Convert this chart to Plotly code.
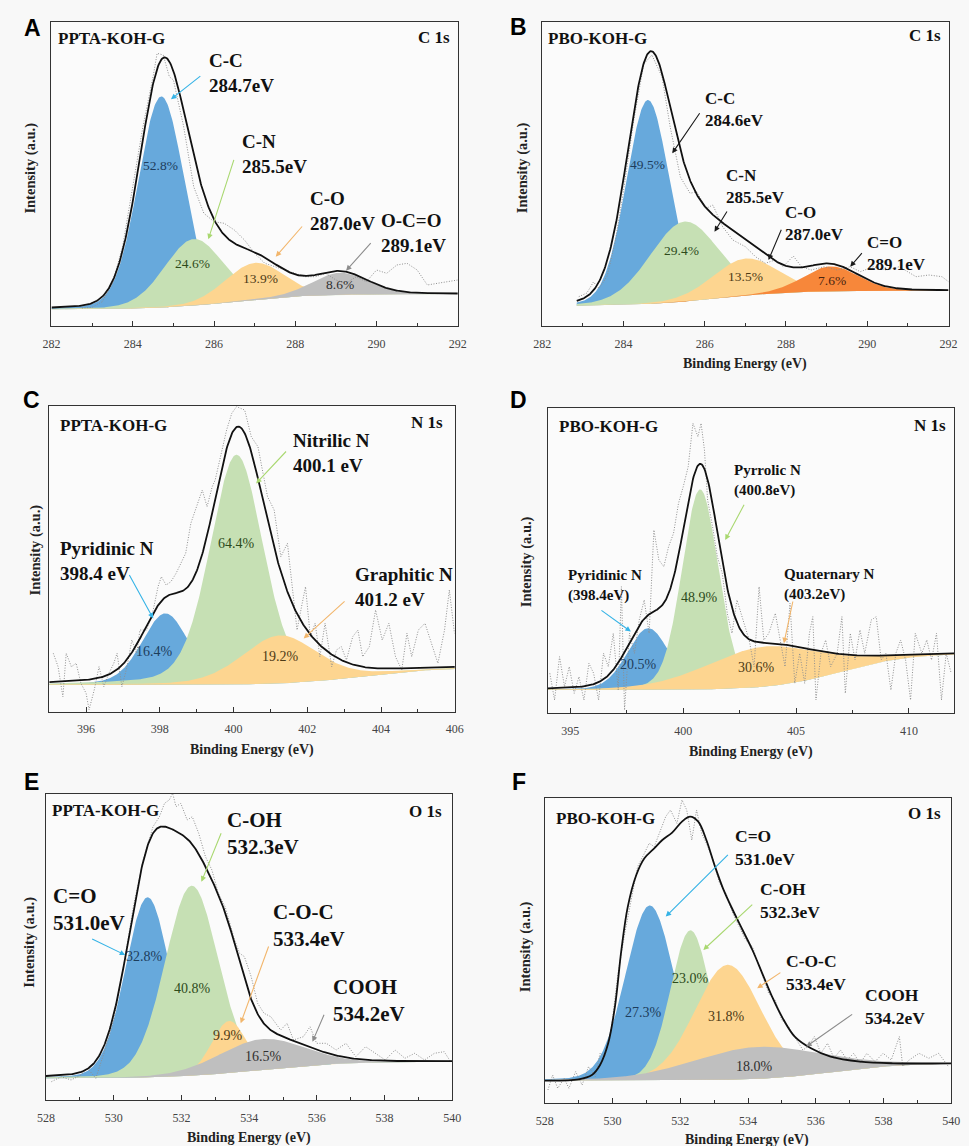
import numpy as np
import plotly.graph_objects as go

W, H = 969, 1146

# ======================= DATA =======================
# Panel A  PPTA-KOH-G  C 1s
A_centers = [284.7, 285.5, 287.0, 289.1]
A_heights = [211, 66.5, 36.7, 22]
A_fwhm = [1.33, 1.7, 1.7, 1.6]
A_percent = [52.8, 24.6, 13.9, 8.6]
A_labels = ["C-C<br>284.7eV", "C-N<br>285.5eV", "C-O<br>287.0eV", "O-C=O<br>289.1eV"]
A_background = [16.7, 32.0, 286.5, 0.9]   # low level, high level, step centre, step width
A_raw_x = [282.75, 283.0, 283.25, 283.5, 283.75, 284.0, 284.25, 284.5, 284.6, 284.75, 284.9, 285.0,
           285.25, 285.5, 285.75, 286.0, 286.25, 286.5, 286.75, 287.0, 287.25, 287.5, 287.75, 288.0,
           288.25, 288.5, 288.75, 289.0, 289.25, 289.5, 289.75, 290.0, 290.25, 290.5, 290.75, 291.0,
           291.25, 291.5, 291.75, 292.0]
A_raw_y = [18, 18.7, 24.3, 42.7, 79.3, 139.3, 199.3, 249.3, 272.7, 271, 249.3, 246,
           200, 139.3, 112.7, 104.3, 102.7, 96, 86, 72.7, 62.7, 59.3, 56, 52.7,
           49.3, 49.3, 52.7, 46, 42.7, 49.3, 44.3, 56, 52.7, 61, 62.7, 56,
           41, 42.7, 44.3, 46]

# Panel B  PBO-KOH-G  C 1s
B_centers = [284.6, 285.5, 287.0, 289.1]
B_heights = [204, 80, 37, 25]
B_fwhm = [1.25, 2.0, 1.9, 1.6]
B_percent = [49.5, 29.4, 13.5, 7.6]
B_labels = ["C-C<br>284.6eV", "C-N<br>285.5eV", "C-O<br>287.0eV", "C=O<br>289.1eV"]
B_background = [20.0, 35.3, 286.3, 0.9]
B_raw_x = [282.9, 283.1, 283.26, 283.4, 283.6, 283.8, 284.0, 284.25, 284.5, 284.7, 284.95, 285.15,
           285.4, 285.64, 285.8, 286.04, 286.2, 286.44, 286.69, 287.0, 287.25, 287.49, 287.73, 287.93,
           288.18, 288.38, 288.62, 288.94, 289.26, 289.58, 289.83, 290.15, 290.47, 290.79, 291.2, 291.52,
           291.84, 292.0]
B_raw_y = [29.3, 33, 44, 37.7, 50, 85, 135, 205, 262, 271, 249, 199,
           149, 132.7, 134.3, 117.7, 121, 99.3, 86, 79.3, 69.3, 62.7, 66, 59.3,
           70, 59.3, 56, 59.3, 56, 59.3, 54.3, 59.3, 56, 59.3, 49.3, 51,
           49.3, 44.3]

# Panel C  PPTA-KOH-G  N 1s
C_centers = [398.15, 400.08, 401.25]
C_heights = [71.6, 229.7, 48]
C_fwhm = [1.5, 1.7, 2.4]
C_percent = [16.4, 64.4, 19.2]
C_labels = ["Pyridinic N<br>398.4 eV", "Nitrilic N<br>400.1 eV", "Graphitic N<br>401.2 eV"]
C_background = [26.7, 44.0, 403.5, 1.0]
C_raw_x = [395.11, 395.24, 395.37, 395.46, 395.6, 395.73, 395.86, 396.0, 396.08, 396.22, 396.35, 396.48,
           396.62, 396.75, 396.84, 396.97, 397.11, 397.24, 397.37, 397.46, 397.64, 397.82, 397.95, 398.04,
           398.17, 398.3, 398.44, 398.57, 398.7, 398.84, 398.97, 399.15, 399.28, 399.42, 399.5, 399.68,
           399.81, 399.95, 400.08, 400.3, 400.48, 400.66, 400.79, 400.92, 401.1, 401.28, 401.46, 401.6,
           401.72, 401.86, 401.95, 402.08, 402.21, 402.34, 402.48, 402.66, 402.79, 402.92, 403.06, 403.23,
           403.37, 403.5, 403.68, 403.85, 404.03, 404.21, 404.39, 404.56, 404.7, 404.83, 405.01, 405.19,
           405.36, 405.54, 405.72, 405.85, 405.99]
C_raw_y = [58.4, 45, 15, 58.4, 45, 48.4, 28.4, 18.4, 2, 21.7, 45, 25,
           38.4, 48.4, 58.4, 25, 45, 71.7, 58.4, 81.7, 81.7, 101.7, 125, 135,
           126.7, 130, 138.4, 148.4, 158.4, 188.4, 201.7, 221.7, 205, 225, 231.7, 261.7,
           281.7, 298.4, 305, 301.7, 275, 265, 241.7, 215, 201.7, 155, 168.4, 125,
           81.7, 108.4, 125, 75, 88.4, 55, 88.4, 45, 61.7, 65, 51.7, 75,
           81.7, 55, 65, 101.7, 71.7, 88.4, 55, 41.7, 78.4, 55, 81.7, 88.4,
           68.4, 48.4, 81.7, 121.7, 78.4]

# Panel D  PBO-KOH-G  N 1s
D_centers = [398.45, 400.75, 403.6]
D_heights = [61.7, 200, 40]
D_fwhm = [2.2, 1.9, 6.0]
D_percent = [20.5, 48.9, 30.6]
D_labels = ["Pyridinic N<br>(398.4eV)", "Pyrrolic N<br>(400.8eV)", "Quaternary N<br>(403.2eV)"]
D_background = [23.3, 60.0, 407.0, 1.5]
D_raw_x = [394.09, 394.3, 394.52, 394.74, 394.95, 395.17, 395.38, 395.6, 395.82, 396.03, 396.25, 396.47,
           396.68, 396.9, 397.12, 397.26, 397.4, 397.62, 397.84, 398.05, 398.27, 398.49, 398.7, 398.92,
           399.14, 399.35, 399.57, 399.79, 400.0, 400.22, 400.43, 400.65, 400.79, 400.94, 401.08, 401.3,
           401.51, 401.73, 401.95, 402.16, 402.38, 402.6, 402.81, 402.92, 403.14, 403.36, 403.57, 403.79,
           404.08, 404.3, 404.51, 404.73, 404.94, 405.16, 405.38, 405.59, 405.74, 405.88, 406.1, 406.31,
           406.53, 406.82, 407.03, 407.18, 407.4, 407.61, 407.83, 408.04, 408.33, 408.55, 408.77, 408.98,
           409.2, 409.42, 409.63, 409.85, 410.07, 410.28, 410.57, 410.79, 411.0, 411.22, 411.44, 411.65,
           411.87]
D_raw_y = [40, 13.3, 56.6, 26.6, 46.6, 20, 36.6, 13.3, 50, 40, 13.3, 60,
           46.6, 80, 23.3, 126.6, 3.3, 80, 60, 93.3, 113.3, 80, 183.3, 153.3,
           146.6, 166.6, 180, 210, 226.6, 246.6, 290, 276.6, 290, 263.3, 213.3, 186.6,
           156.6, 140, 100, 80, 113.3, 96.6, 80, 73.3, 46.6, 126.6, 73.3, 80,
           100, 73.3, 46.6, 110, 30, 60, 30, 80, 96.6, 13.3, 60, 73.3,
           46.6, 60, 96.6, 20, 80, 53.3, 83.3, 60, 93.3, 96.6, 53.3, 60,
           23.3, 60, 73.3, 53.3, 13.3, 80, 60, 73.3, 53.3, 80, 13.3, 60,
           40]

# Panel E  PPTA-KOH-G  O 1s
E_centers = [531.0, 532.3, 533.4, 534.35]
E_heights = [180, 190, 52, 30.7]
E_fwhm = [1.55, 1.85, 1.2, 3.0]
E_percent = [32.8, 40.8, 9.9, 16.5]
E_labels = ["C=O<br>531.0eV", "C-OH<br>532.3eV", "C-O-C<br>533.4eV", "COOH<br>534.2eV"]
E_background = [21.7, 38.3, 534.3, 1.2]
E_raw_x = [528.16, 528.45, 528.74, 529.03, 529.23, 529.47, 529.71, 530.0, 530.29, 530.58, 530.87, 531.16,
           531.35, 531.5, 531.64, 531.74, 531.84, 531.98, 532.17, 532.32, 532.51, 532.71, 532.9, 533.09,
           533.29, 533.57, 533.72, 533.86, 534.06, 534.25, 534.44, 534.64, 534.93, 535.12, 535.31, 535.6,
           535.8, 535.99, 536.28, 536.57, 536.86, 537.15, 537.44, 537.73, 538.02, 538.31, 538.6, 538.89,
           539.18, 539.47, 539.76, 539.95]
E_raw_y = [18.3, 23.3, 20, 25, 31.7, 21.7, 46.7, 80, 133.3, 193.3, 240, 273.3,
           283.3, 296.7, 300, 306.7, 293.3, 296.7, 280, 283.3, 266.7, 243.3, 230, 206.7,
           193.3, 160, 146.7, 143.3, 123.3, 96.7, 86.7, 83.3, 70, 76.7, 60, 63.3,
           73.3, 56.7, 56.7, 50, 56.7, 43.3, 53.3, 46.7, 40, 50, 41.7, 46.7,
           40, 46.7, 48.3, 38.3]

# Panel F  PBO-KOH-G  O 1s
F_centers = [531.1, 532.3, 533.4, 534.3]
F_heights = [175, 150, 115, 32]
F_fwhm = [1.7, 1.4, 2.3, 4.5]
F_percent = [27.3, 23.0, 31.8, 18.0]
F_labels = ["C=O<br>531.0eV", "C-OH<br>532.3eV", "C-O-C<br>533.4eV", "COOH<br>534.2eV"]
F_background = [22.7, 40.0, 536.5, 1.0]
F_raw_x = [528.09, 528.23, 528.38, 528.57, 528.71, 528.91, 529.1, 529.29, 529.49, 529.63, 529.78, 529.97,
           530.16, 530.36, 530.55, 530.74, 530.94, 531.08, 531.23, 531.42, 531.57, 531.71, 531.9, 532.05,
           532.19, 532.34, 532.48, 532.63, 532.77, 532.97, 533.16, 533.35, 533.55, 533.74, 533.93, 534.13,
           534.27, 534.42, 534.61, 534.8, 535.0, 535.19, 535.38, 535.62, 535.77, 535.96, 536.15, 536.35,
           536.54, 536.73, 536.93, 537.12, 537.31, 537.51, 537.75, 537.99, 538.23, 538.47, 538.57, 538.76,
           539.05, 539.34, 539.63, 539.92]
F_raw_y = [13.3, 28.3, 15, 25, 15, 31.7, 18.3, 36.7, 26.7, 50, 46.7, 76.7,
           130, 170, 203.3, 236.7, 250, 260, 256.7, 273.3, 286.7, 293.3, 280, 303.3,
           293.3, 263.3, 293.3, 270, 260, 243.3, 220, 210, 190, 176.7, 163.3, 156.7,
           143.3, 130, 110, 103.3, 83.3, 76.7, 66.7, 53.3, 56.7, 66.7, 50, 60,
           45, 53.3, 43.3, 50, 40, 50, 41.7, 50, 43.3, 66.7, 36.7, 43.3,
           50, 45, 50, 36.7]
F_env_x = [528.0, 529.0, 529.39, 529.63, 529.87, 530.07, 530.26, 530.45, 530.7, 530.94, 531.23, 531.47,
           531.76, 532.05, 532.29, 532.53, 532.77, 533.01, 533.26, 533.55, 533.84, 534.13, 534.42, 534.71,
           535.0, 535.38, 535.86, 536.44, 537.31, 538.28, 540.0]
F_env_y = [22.7, 24, 28.3, 38.3, 60, 96.7, 153.3, 196.7, 228.3, 245, 255, 263.3,
           270.7, 281.7, 286.7, 281.7, 263.3, 238.3, 215, 193.3, 173.3, 153.3, 130, 106.7,
           86.7, 66.7, 55, 46.7, 41.7, 40, 40]

# ======================= STYLE / LAYOUT =======================
SERIF = "Liberation Serif, Times New Roman, serif"
BLUE, GREEN, LORANGE, GREY, DORANGE = "#67a9dc", "#c6e0b4", "#fdd590", "#bfbfbf", "#f7873a"
A_CYAN, A_GREEN, A_ORANGE, A_GREY, A_BLACK = "#35b3e6", "#a9d870", "#f2b66c", "#8c8c8c", "#1a1a1a"
TXT = {BLUE: "#1d3d5c", GREEN: "#2d4b1b", LORANGE: "#4d3a15", GREY: "#303030", DORANGE: "#4a2410"}

panels = [
    dict(letter="A", sample="PPTA-KOH-G", core="C 1s",
         centers=A_centers, heights=A_heights, fwhm=A_fwhm, pct=A_percent, labels=A_labels,
         bg=A_background, raw_x=A_raw_x, raw_y=A_raw_y, env=None, eta=0.1,
         box=(43.3, 21.7, 457.3, 326.0), xr=(282, 292), xs=282.0, ytop=304.3, dtick=2, tick0=282, minor=1,
         colors=[BLUE, GREEN, LORANGE, GREY], arrows=[A_CYAN, A_GREEN, A_ORANGE, A_GREY],
         lab_pos=[(285.82, 252.7), (286.63, 171.7), (288.32, 115), (290.05, 92.7)],
         arr=[((285.70, 251.0), (284.94, 226.7)), ((286.5, 167.7), (285.86, 86.7)),
              ((288.2, 101), (287.52, 69.3)), ((289.89, 84.3), (289.25, 55.3))],
         pct_pos=[(284.68, 160.3), (285.46, 62.7), (287.14, 47.7), (289.09, 41)],
         lab_size=19, pct_size=13.5,
         letter_pos=(24, 28), sample_pos=(48, 38), core_pos=(451, 37),
         ytitle=(22, 168), xtitle=None),
    dict(letter="B", sample="PBO-KOH-G", core="C 1s",
         centers=B_centers, heights=B_heights, fwhm=B_fwhm, pct=B_percent, labels=B_labels,
         bg=B_background, raw_x=B_raw_x, raw_y=B_raw_y, env=None, eta=0.1,
         box=(543.3, 21.7, 957.3, 326.0), xr=(282, 292), xs=282.85, ytop=304.3, dtick=2, tick0=282, minor=1,
         colors=[BLUE, GREEN, LORANGE, DORANGE], arrows=[A_BLACK] * 4,
         lab_pos=[(285.96, 216), (286.48, 139), (287.93, 102), (289.95, 72)],
         arr=[((285.9, 214.3), (285.2, 172.7)), ((286.57, 116), (286.24, 94.3)),
              ((287.9, 97.7), (287.57, 66)), ((289.9, 74.3), (289.58, 59.3))],
         pct_pos=[(284.6, 161), (285.44, 75), (287.0, 49), (289.14, 45)],
         lab_size=17, pct_size=13.5,
         letter_pos=(519, 27), sample_pos=(547, 38), core_pos=(952, 35),
         ytitle=(524, 168), xtitle=(750, 364)),
    dict(letter="C", sample="PPTA-KOH-G", core="N 1s",
         centers=C_centers, heights=C_heights, fwhm=C_fwhm, pct=C_percent, labels=C_labels,
         bg=C_background, raw_x=C_raw_x, raw_y=C_raw_y, env=None, eta=0.25,
         box=(41.0, 406.0, 454.3, 711.7), xr=(395, 406), xs=395.0, ytop=305.7, dtick=2, tick0=396, minor=1,
         colors=[BLUE, GREEN, LORANGE], arrows=[A_CYAN, A_GREEN, A_ORANGE],
         lab_pos=[(395.24, 151), (401.56, 258.3), (403.23, 125)],
         arr=[((397.15, 138.3), (397.82, 93.3)), ((401.46, 261.7), (400.61, 228.3)),
              ((403.05, 111.7), (401.9, 73.3))],
         pct_pos=[(397.86, 60), (400.08, 168.3), (401.26, 55)],
         lab_size=19, pct_size=14,
         letter_pos=(23, 400), sample_pos=(50, 425), core_pos=(444, 423),
         ytitle=(27, 550), xtitle=(248, 750)),
    dict(letter="D", sample="PBO-KOH-G", core="N 1s",
         centers=D_centers, heights=D_heights, fwhm=D_fwhm, pct=D_percent, labels=D_labels,
         bg=D_background, raw_x=D_raw_x, raw_y=D_raw_y, env=None, eta=0.15,
         box=(549.0, 408.3, 963.0, 713.3), xr=(394, 412), xs=394.0, ytop=305.0, dtick=5, tick0=395, minor=2.5,
         colors=[BLUE, GREEN, LORANGE], arrows=[A_CYAN, A_GREEN, A_ORANGE],
         lab_pos=[(394.79, 127.7), (402.18, 232.7), (404.37, 128.7)],
         arr=[((396.31, 104), (397.68, 81.7)), ((402.73, 210), (401.86, 173.3)),
              ((404.87, 113.3), (404.46, 70))],
         pct_pos=[(398.0, 49.3), (400.74, 115.7), (403.24, 45.7)],
         lab_size=15, pct_size=14,
         letter_pos=(519, 400), sample_pos=(558, 426.7), core_pos=(956.7, 425),
         ytitle=(527, 562), xtitle=(756, 752)),
    dict(letter="E", sample="PPTA-KOH-G", core="O 1s",
         centers=E_centers, heights=E_heights, fwhm=E_fwhm, pct=E_percent, labels=E_labels,
         bg=E_background, raw_x=E_raw_x, raw_y=E_raw_y, env=None, eta=0.1,
         box=(37.7, 794.3, 451.7, 1100.0), xr=(528, 540), xs=528.0, ytop=305.7, dtick=2, tick0=528, minor=1,
         colors=[BLUE, GREEN, LORANGE, GREY], arrows=[A_CYAN, A_GREEN, A_ORANGE, A_GREY],
         lab_pos=[(528.14, 191), (533.3, 266.3), (534.64, 175), (536.43, 100)],
         arr=[((529.32, 161.7), (530.34, 145)), ((533.19, 268.3), (532.59, 218.3)),
              ((534.59, 155), (533.75, 76.7)), ((536.23, 86.7), (535.87, 58.3))],
         pct_pos=[(530.92, 143.3), (532.32, 111.7), (533.38, 65), (534.43, 43.3)],
         lab_size=21, pct_size=14,
         letter_pos=(23, 782), sample_pos=(41.7, 810), core_pos=(443, 811.7),
         ytitle=(20, 942), xtitle=(245, 1138)),
    dict(letter="F", sample="PBO-KOH-G", core="O 1s",
         centers=F_centers, heights=F_heights, fwhm=F_fwhm, pct=F_percent, labels=F_labels,
         bg=F_background, raw_x=F_raw_x, raw_y=F_raw_y, env=(F_env_x, F_env_y), eta=0.1,
         box=(546.0, 798.3, 960.0, 1103.3), xr=(528, 540), xs=528.0, ytop=305.0, dtick=2, tick0=528, minor=1,
         colors=[BLUE, GREEN, LORANGE, GREY], arrows=[A_CYAN, A_GREEN, A_ORANGE, A_GREY],
         lab_pos=[(533.57, 256.3), (534.3, 203), (535.07, 131), (537.39, 97)],
         arr=[((533.45, 250), (531.57, 186.7)), ((534.17, 200), (532.68, 153.3)),
              ((535.0, 131.7), (534.27, 115)), ((537.12, 90), (535.72, 56.7))],
         pct_pos=[(530.92, 90.7), (532.31, 125), (533.37, 86.7), (534.2, 37.3)],
         lab_size=17.5, pct_size=14,
         letter_pos=(520, 782), sample_pos=(555.7, 818), core_pos=(952, 813),
         ytitle=(526, 947), xtitle=(752, 1140)),
]


def pseudo_voigt(x, c, h, fw, eta):
    d = (x - c) / fw
    return h * ((1 - eta) * np.exp(-4 * np.log(2) * d * d) + eta / (1 + 4 * d * d))


def step_bg(x, p):
    lo, hi, x0, w = p
    return lo + (hi - lo) / (1 + np.exp(-(x - x0) / w))


fig = go.Figure()
annotations = []


def px(xp):
    return xp / W


def py(yp):
    return 1 - yp / H


layout_axes = {}
for i, P in enumerate(panels):
    n = "" if i == 0 else str(i + 1)
    xa, ya = "x" + n, "y" + n
    x = np.linspace(P["xs"], P["xr"][1], 600)
    bg = step_bg(x, P["bg"])
    total = bg.copy()
    for c, h, fw, col in zip(P["centers"], P["heights"], P["fwhm"], P["colors"]):
        pk = pseudo_voigt(x, c, h, fw, P["eta"])
        total = total + pk
        fig.add_trace(go.Scatter(x=x, y=bg, mode="lines", line=dict(width=0), xaxis=xa, yaxis=ya,
                                 showlegend=False, hoverinfo="skip"))
        fig.add_trace(go.Scatter(x=x, y=bg + pk, mode="lines", line=dict(width=0), fill="tonexty",
                                 fillcolor=col, xaxis=xa, yaxis=ya, showlegend=False, hoverinfo="skip"))
    fig.add_trace(go.Scatter(x=P["raw_x"], y=P["raw_y"], mode="lines",
                             line=dict(color="#8f8f8f", width=1, dash="1px,1.6px"),
                             xaxis=xa, yaxis=ya, showlegend=False, hoverinfo="skip"))
    if P["env"] is not None:
        fig.add_trace(go.Scatter(x=P["env"][0], y=P["env"][1], mode="lines", line_shape="spline",
                                 line=dict(color="#111111", width=1.8),
                                 xaxis=xa, yaxis=ya, showlegend=False, hoverinfo="skip"))
    else:
        fig.add_trace(go.Scatter(x=x, y=total, mode="lines", line=dict(color="#111111", width=1.8),
                                 xaxis=xa, yaxis=ya, showlegend=False, hoverinfo="skip"))

    l, t, r, b = P["box"]
    layout_axes["xaxis" + n] = dict(
        domain=[px(l), px(r)], range=list(P["xr"]), anchor=ya, showline=True, mirror=True,
        linecolor="#333333", linewidth=1.2, ticks="inside", ticklen=5, tickwidth=1, tickcolor="#333333",
        dtick=P["dtick"], tick0=P["tick0"], showgrid=False, zeroline=False,
        minor=dict(ticks="inside", ticklen=3, dtick=P["minor"], tick0=P["tick0"], tickcolor="#333333",
                   showgrid=False),
        tickfont=dict(family=SERIF, size=12, color="#444444"), ticklabelstandoff=6)
    layout_axes["yaxis" + n] = dict(
        domain=[py(b), py(t)], range=[0, P["ytop"]], anchor=xa, showline=True, mirror=True,
        linecolor="#333333", linewidth=1.2, showticklabels=False, ticks="", showgrid=False,
        zeroline=False)

    # peak labels
    for (lx, ly), txt in zip(P["lab_pos"], P["labels"]):
        annotations.append(dict(x=lx, y=ly, xref=xa, yref=ya, text="<b>%s</b>" % txt, showarrow=False,
                                xanchor="left", yanchor="middle", align="left",
                                font=dict(family=SERIF, size=P["lab_size"], color="#111111")))
    # arrows
    for ((tx, ty), (hx, hy)), col in zip(P["arr"], P["arrows"]):
        annotations.append(dict(x=hx, y=hy, ax=tx, ay=ty, xref=xa, yref=ya, axref=xa, ayref=ya,
                                text="", showarrow=True, arrowhead=2, arrowsize=1, arrowwidth=1.1,
                                arrowcolor=col, standoff=0, startstandoff=0))
    # percentages
    for (qx, qy), v, col in zip(P["pct_pos"], P["pct"], P["colors"]):
        annotations.append(dict(x=qx, y=qy, xref=xa, yref=ya, text="%.1f%%" % v, showarrow=False,
                                xanchor="center", yanchor="middle",
                                font=dict(family=SERIF, size=P["pct_size"], color=TXT[col])))
    # sample / core level
    annotations.append(dict(x=px(P["sample_pos"][0]), y=py(P["sample_pos"][1]), xref="paper", yref="paper",
                            text="<b>%s</b>" % P["sample"], showarrow=False, xanchor="left", yanchor="middle",
                            font=dict(family=SERIF, size=17, color="#111111")))
    annotations.append(dict(x=px(P["core_pos"][0]), y=py(P["core_pos"][1]), xref="paper", yref="paper",
                            text="<b>%s</b>" % P["core"], showarrow=False, xanchor="right", yanchor="middle",
                            font=dict(family=SERIF, size=17, color="#111111")))
    # panel letter
    annotations.append(dict(x=px(P["letter_pos"][0]), y=py(P["letter_pos"][1]), xref="paper", yref="paper",
                            text="<b>%s</b>" % P["letter"], showarrow=False, xanchor="center",
                            yanchor="middle", font=dict(family="Liberation Sans, Arial", size=23,
                                                        color="#000000")))
    # axis titles
    annotations.append(dict(x=px(P["ytitle"][0]), y=py(P["ytitle"][1]), xref="paper", yref="paper",
                            text="<b>Intensity (a.u.)</b>", showarrow=False, textangle=-90,
                            xanchor="center", yanchor="middle",
                            font=dict(family=SERIF, size=14.5, color="#222222")))
    if P["xtitle"] is not None:
        annotations.append(dict(x=px(P["xtitle"][0]), y=py(P["xtitle"][1]), xref="paper", yref="paper",
                                text="<b>Binding Energy (eV)</b>", showarrow=False,
                                xanchor="center", yanchor="middle",
                                font=dict(family=SERIF, size=14, color="#222222")))

fig.update_layout(width=W, height=H, margin=dict(l=0, r=0, t=0, b=0),
                  paper_bgcolor="#f8f8f8", plot_bgcolor="#fbfbfb",
                  showlegend=False, annotations=annotations, **layout_axes)

fig.write_html("out.html", config={"displayModeBar": False},
               post_script="document.body.style.margin='0';")
